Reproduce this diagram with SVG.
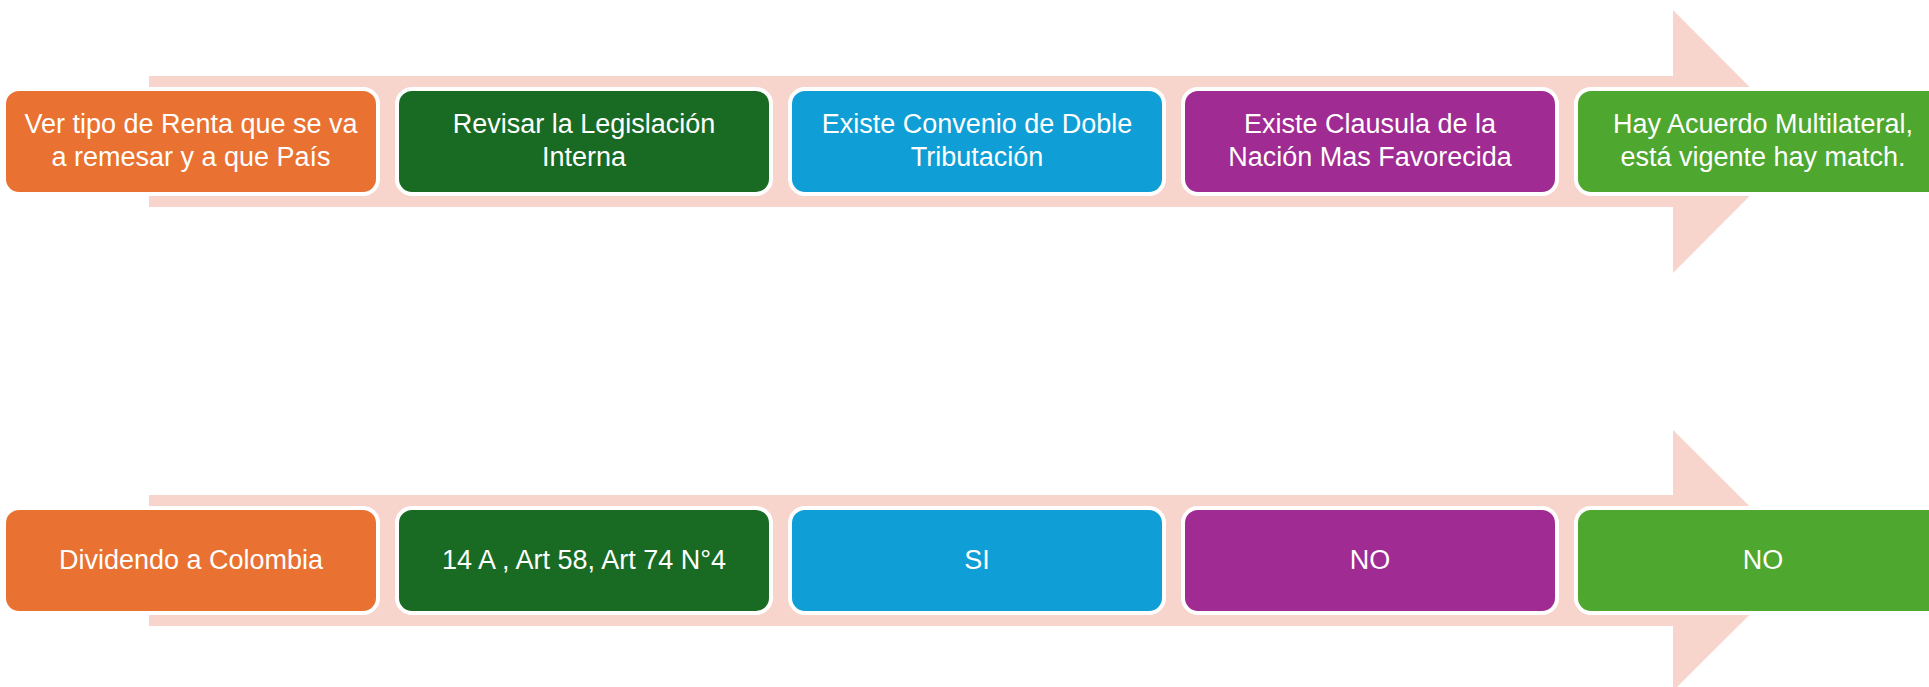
<svg xmlns="http://www.w3.org/2000/svg" width="1929" height="687" viewBox="0 0 1929 687">
<style>
.band{fill:#F7D5CC}
.box{stroke:#FFFFFF;stroke-width:4}
.t{font-family:"Liberation Sans",Arial,sans-serif;font-size:27px;fill:#FFFFFF;text-anchor:middle}
.c1{fill:#E97132}.c2{fill:#196B24}.c3{fill:#0F9ED5}.c4{fill:#A02B93}.c5{fill:#4EA72E}
</style>
<rect width="1929" height="687" fill="#FFFFFF"/>
<g id="connectors">
<polygon class="band" points="149,76 1673,76 1673,10 1804,141.5 1673,273 1673,207 149,207"/>
<polygon class="band" points="149,495 1673,495 1673,430 1804,560.5 1673,691 1673,626 149,626"/>
</g>
<g id="n1"><rect class="box c1" x="4" y="89" width="374" height="105" rx="15"/><text class="t" x="191" y="133">Ver tipo de Renta que se va</text><text class="t" x="191" y="166">a remesar y a que País</text></g>
<g id="n2"><rect class="box c2" x="397" y="89" width="374" height="105" rx="15"/><text class="t" x="584" y="133">Revisar la Legislación</text><text class="t" x="584" y="166">Interna</text></g>
<g id="n3"><rect class="box c3" x="790" y="89" width="374" height="105" rx="15"/><text class="t" x="977" y="133">Existe Convenio de Doble</text><text class="t" x="977" y="166">Tributación</text></g>
<g id="n4"><rect class="box c4" x="1183" y="89" width="374" height="105" rx="15"/><text class="t" x="1370" y="133">Existe Clausula de la</text><text class="t" x="1370" y="166">Nación Mas Favorecida</text></g>
<g id="n5"><rect class="box c5" x="1576" y="89" width="374" height="105" rx="15"/><text class="t" x="1763" y="133">Hay Acuerdo Multilateral,</text><text class="t" x="1763" y="166">está vigente hay match.</text></g>
<g id="m1"><rect class="box c1" x="4" y="508" width="374" height="105" rx="15"/><text class="t" x="191" y="569">Dividendo a Colombia</text></g>
<g id="m2"><rect class="box c2" x="397" y="508" width="374" height="105" rx="15"/><text class="t" x="584" y="569">14 A , Art 58, Art 74 N°4</text></g>
<g id="m3"><rect class="box c3" x="790" y="508" width="374" height="105" rx="15"/><text class="t" x="977" y="569">SI</text></g>
<g id="m4"><rect class="box c4" x="1183" y="508" width="374" height="105" rx="15"/><text class="t" x="1370" y="569">NO</text></g>
<g id="m5"><rect class="box c5" x="1576" y="508" width="374" height="105" rx="15"/><text class="t" x="1763" y="569">NO</text></g>
</svg>
